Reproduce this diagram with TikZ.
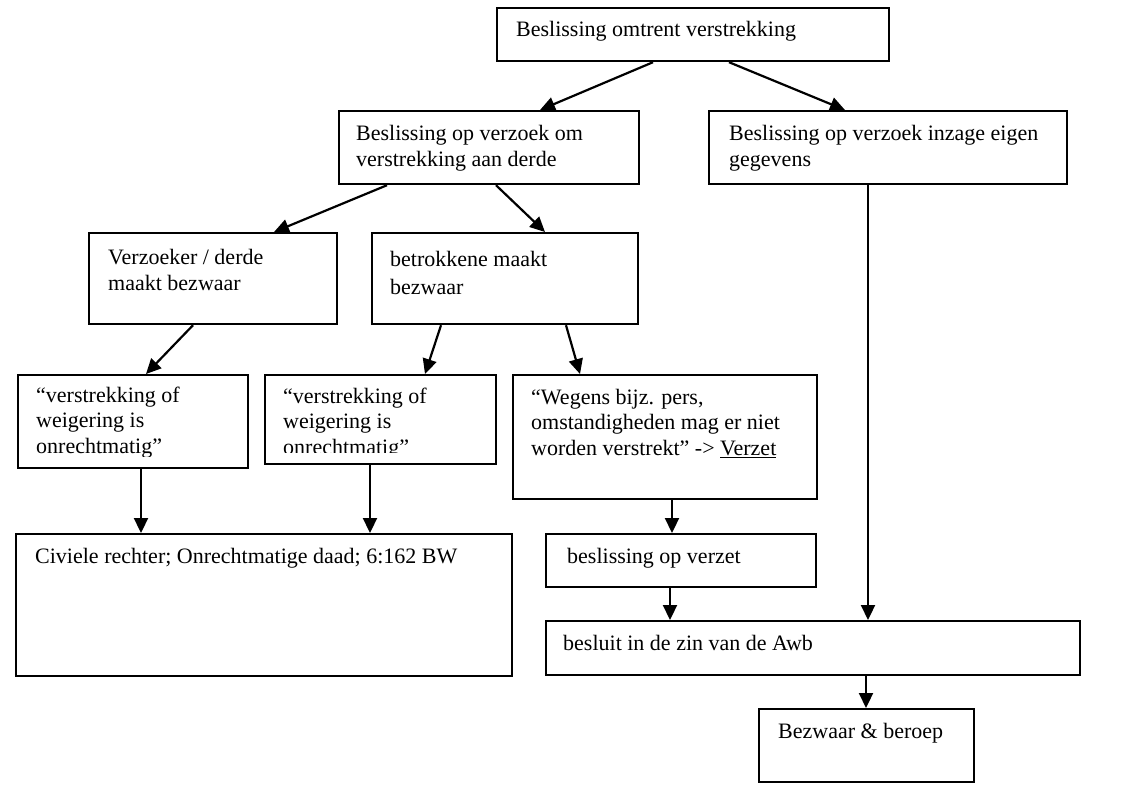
\documentclass[tikz,border=0pt]{standalone}
\usepackage{fontspec}
\setmainfont{Liberation Serif}
\usetikzlibrary{arrows.meta}
\begin{document}
\begin{tikzpicture}[x=1pt,y=1pt,
  box/.style={draw=black, line width=2.2pt, rectangle, inner sep=0pt, anchor=north west},
  txt/.style={anchor=base west, inner sep=0pt, align=left, font=\fontsize{22}{25.5}\selectfont},
  arr/.style={line width=2.2pt, -{Triangle[length=15pt,width=14pt]}}]
\useasboundingbox (0,0) rectangle (1134,-788);
\fill[white] (0,0) rectangle (1134,-788);
% boxes
\node[box, minimum width=392, minimum height=53] (A) at (496,-7) {};
\node[box, minimum width=300, minimum height=73] (B) at (338,-110) {};
\node[box, minimum width=358, minimum height=73] (C) at (708,-110) {};
\node[box, minimum width=248, minimum height=91] (D) at (88,-232) {};
\node[box, minimum width=266, minimum height=91] (E) at (371,-232) {};
\node[box, minimum width=230, minimum height=93] (F) at (17,-374) {};
\node[box, minimum width=231, minimum height=89] (G) at (264,-374) {};
\node[box, minimum width=304, minimum height=124] (H) at (512,-374) {};
\node[box, minimum width=496, minimum height=142] (I) at (15,-533) {};
\node[box, minimum width=270, minimum height=53] (J) at (545,-533) {};
\node[box, minimum width=534, minimum height=54] (K) at (545,-620) {};
\node[box, minimum width=215, minimum height=73] (L) at (758,-708) {};
% texts (anchor = baseline of last line)
\node[txt] (tA) at (516,-36) {Beslissing omtrent verstrekking};
\node[txt] (tB) at (356,-166) {Beslissing op verzoek om\\verstrekking aan derde};
\node[txt] (tC) at (729,-166) {Beslissing op verzoek inzage eigen\\gegevens};
\node[txt] (tD) at (108,-290) {Verzoeker / derde\\maakt bezwaar};
\node[txt] (tE) at (390,-294) {betrokkene maakt\\[2.5pt]bezwaar};
\begin{scope}
\clip (17,-374) rectangle (247,-456);
\node[txt] (tF) at (36,-453) {“verstrekking of\\weigering is\\onrechtmatig”};
\end{scope}
\begin{scope}
\clip (264,-374) rectangle (495,-452);
\node[txt] (tG) at (283,-454) {“verstrekking of\\weigering is\\onrechtmatig”};
\end{scope}
\node[txt] (tH) at (531,-455) {“Wegens bijz. pers,\\omstandigheden mag er niet\\worden verstrekt” -> \underline{Verzet}};
\node[txt] (tI) at (35,-563) {Civiele rechter; Onrechtmatige daad; 6:162 BW};
\node[txt] (tJ) at (567,-563) {beslissing op verzet};
\node[txt] (tK) at (563,-650) {besluit in de zin van de Awb};
\node[txt] (tL) at (778,-738) {Bezwaar \& beroep};
% arrows
\draw[arr] ([xshift=157pt]A.south west) -- ([xshift=202pt]B.north west);
\draw[arr] ([xshift=233pt]A.south west) -- ([xshift=137pt]C.north west);
\draw[arr] ([xshift=49pt]B.south west) -- ([xshift=186pt]D.north west);
\draw[arr] ([xshift=158pt]B.south west) -- ([xshift=174pt]E.north west);
\draw[arr] ([xshift=105pt]D.south west) -- ([xshift=129pt]F.north west);
\draw[arr] ([xshift=70pt]E.south west) -- ([xshift=161pt]G.north west);
\draw[arr] ([xshift=195pt]E.south west) -- ([xshift=68pt]H.north west);
\draw[arr] ([xshift=124pt]F.south west) -- ([xshift=126pt]I.north west);
\draw[arr] ([xshift=106pt]G.south west) -- ([xshift=355pt]I.north west);
\draw[arr] ([xshift=160pt]H.south west) -- ([xshift=127pt]J.north west);
\draw[arr] ([xshift=125pt]J.south west) -- ([xshift=125pt]K.north west);
\draw[arr] ([xshift=160pt]C.south west) -- ([xshift=323pt]K.north west);
\draw[arr] ([xshift=321pt]K.south west) -- ([xshift=108pt]L.north west);
\end{tikzpicture}
\end{document}
